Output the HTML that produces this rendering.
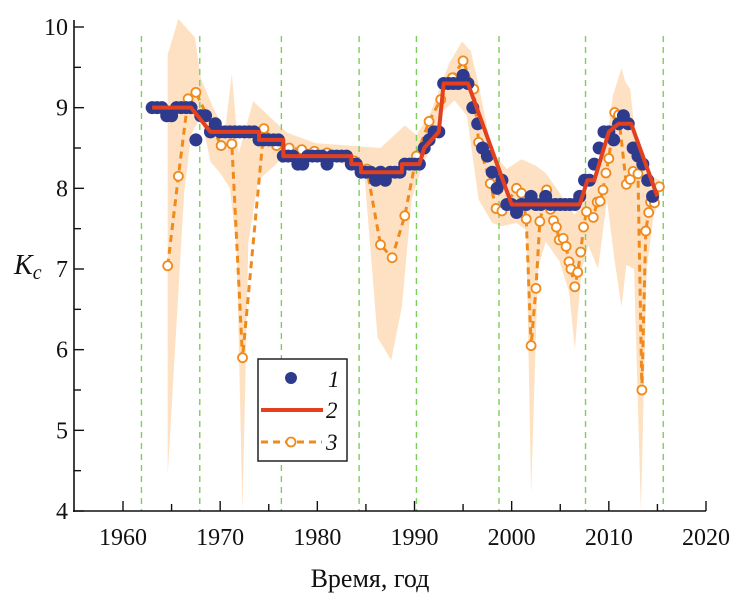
<!DOCTYPE html>
<html><head><meta charset="utf-8"><style>
html,body{margin:0;padding:0;background:#fff}
svg{display:block}
svg text{font-family:"Liberation Serif","DejaVu Serif",serif !important;fill:#111}
</style></head><body>
<svg id="chart" width="742" height="600" viewBox="0 0 742 600" xmlns="http://www.w3.org/2000/svg" font-family="Liberation Serif, DejaVu Serif, serif">
<g id="band"></g>
<g id="vlines"></g>
<g id="s3"></g>
<g id="s1"></g>
<g id="s2"></g>
<g id="axes"></g>
<text x="370" y="587" font-size="26" text-anchor="middle" font-family="Liberation Serif, serif">Время, год</text>
<text x="14" y="274" font-size="28" font-style="italic" font-family="Liberation Serif, serif">K<tspan font-size="20" dy="5">c</tspan></text>
<g>
<rect x="258" y="359" width="89" height="102" fill="#fff" stroke="#222" stroke-width="1.5"/>
<circle cx="291" cy="378" r="6" fill="#2e3a8c"/>
<text x="328" y="387" font-size="23" font-style="italic" font-family="Liberation Serif, serif">1</text>
<line x1="261" y1="410" x2="323" y2="410" stroke="#e2401f" stroke-width="4"/>
<text x="326" y="418" font-size="23" font-style="italic" font-family="Liberation Serif, serif">2</text>
<line x1="261" y1="442" x2="322" y2="442" stroke="#f08a1c" stroke-width="3" stroke-dasharray="7,5"/>
<circle cx="291" cy="442" r="4.5" fill="#fff" stroke="#f08a1c" stroke-width="1.8"/>
<text x="326" y="450" font-size="23" font-style="italic" font-family="Liberation Serif, serif">3</text>
</g>
</svg>
<script>
const xTicks=[1960,1970,1980,1990,2000,2010,2020];
const yTicks=[4,5,6,7,8,9,10];
const boundaryYears=[1961.9,1967.9,1976.3,1984.3,1990.2,1998.7,2007.6,2015.6];
const s1Years=[1963,1963.5,1964,1964.5,1965,1965.5,1966,1966.5,1967,1967.5,1968,1968.5,1969,1969.5,1970,1970.5,1971,1971.5,1972,1972.5,1973,1973.5,1974,1974.5,1975,1975.5,1976,1976.5,1977,1977.5,1978,1978.5,1979,1979.5,1980,1980.5,1981,1981.5,1982,1982.5,1983,1983.5,1984,1984.5,1985,1985.5,1986,1986.5,1987,1987.5,1988,1988.5,1989,1989.5,1990,1990.5,1991,1991.5,1992,1992.5,1993,1993.5,1994,1994.5,1995,1995.5,1996,1996.5,1997,1997.5,1998,1998.5,1999,1999.5,2000,2000.5,2001,2001.5,2002,2002.5,2003,2003.5,2004,2004.5,2005,2005.5,2006,2006.5,2007,2007.5,2008,2008.5,2009,2009.5,2010,2010.5,2011,2011.5,2012,2012.5,2013,2013.5,2014,2014.5];
const s1Values=[9,9,9,8.9,8.9,9,9,9,9,8.6,8.9,8.9,8.7,8.8,8.7,8.7,8.7,8.7,8.7,8.7,8.7,8.7,8.6,8.6,8.6,8.6,8.6,8.4,8.4,8.4,8.3,8.3,8.4,8.4,8.4,8.4,8.3,8.4,8.4,8.4,8.4,8.3,8.3,8.2,8.2,8.2,8.1,8.2,8.1,8.2,8.2,8.2,8.3,8.3,8.3,8.3,8.5,8.6,8.7,8.7,9.3,9.3,9.3,9.3,9.4,9.3,9.0,8.8,8.5,8.4,8.2,8.0,8.1,7.8,7.8,7.7,7.8,7.8,7.9,7.8,7.8,7.9,7.8,7.8,7.8,7.8,7.8,7.8,7.9,8.1,8.1,8.3,8.5,8.7,8.7,8.6,8.8,8.9,8.8,8.5,8.4,8.3,8.1,7.9];
const s2Years=[1963,1967,1969,1974,1974,1976.5,1976.5,1983.5,1983.5,1984.5,1984.5,1988.7,1988.7,1990.5,1991,1992.5,1993,1995.5,2000,2007,2007.8,2008.5,2010,2011,2012.3,2015];
const s2Values=[9,9,8.7,8.7,8.6,8.6,8.4,8.4,8.3,8.3,8.2,8.2,8.3,8.3,8.5,8.7,9.3,9.3,7.8,7.8,8.1,8.1,8.7,8.8,8.8,7.9];
const s3Years=[1964.6,1965.7,1966.7,1967.5,1970.1,1971.2,1972.3,1974.5,1975.8,1977.1,1978.4,1979.7,1981,1982.3,1983.8,1985.1,1986.5,1987.7,1989,1990.2,1991.5,1992.7,1993.9,1995,1996.1,1996.6,1997.8,1998.4,1999,2000.5,2001,2001.5,2002,2002.5,2002.9,2003.6,2004,2004.3,2004.6,2004.9,2005.3,2005.6,2005.9,2006.1,2006.5,2006.8,2007.1,2007.4,2007.7,2008.4,2008.8,2009.1,2009.4,2009.7,2010,2010.6,2011,2011.8,2012.2,2012.5,2013,2013.4,2013.8,2014.1,2014.3,2014.7,2015.2];
const s3Values=[7.04,8.15,9.11,9.19,8.53,8.55,5.9,8.74,8.53,8.5,8.48,8.46,8.44,8.4,8.34,8.24,7.3,7.14,7.66,8.4,8.83,9.1,9.37,9.58,9.23,8.57,8.06,7.75,7.72,8.0,7.94,7.62,6.05,6.76,7.59,7.98,7.74,7.6,7.52,7.36,7.38,7.28,7.09,7.0,6.78,6.96,7.21,7.52,7.71,7.64,7.83,7.84,7.98,8.19,8.37,8.94,8.91,8.05,8.11,8.21,8.18,5.5,7.47,7.7,7.83,7.82,8.02];
const bandUpYears=[1964.6,1965.7,1967.4,1968,1969.2,1970.5,1971.2,1971.9,1973.4,1975.6,1976.9,1979.8,1984.3,1986.5,1989,1990.2,1991.7,1993.6,1994.9,1995.8,1996.6,1998,1999.5,2001,2002.5,2003.5,2004.9,2006.5,2007.2,2008.4,2009.7,2010.4,2011.3,2011.7,2012.2,2012.9,2013.9,2014.6,2015.2];
const bandUpValues=[9.66,10.1,9.87,9.37,9.02,8.71,9.42,8.43,9.08,8.83,8.69,8.56,8.52,8.5,8.78,8.66,8.95,9.56,9.82,9.7,9.28,8.45,8.24,8.36,8.28,8.19,7.95,7.67,7.88,8.05,8.52,9.14,9.49,9.32,9.23,8.43,8.19,8.14,8.1];
const bandLowYears=[1964.6,1966.3,1967,1968,1969,1970,1971,1971.7,1972.3,1972.9,1973.9,1975.6,1976.9,1981.8,1984.8,1986.2,1987.6,1988.7,1989.7,1990.7,1991.7,1992.9,1994.1,1995.4,1996.6,1998,1999,2000.5,2001.5,2002,2002.7,2003.5,2004.9,2005.9,2006.5,2007.2,2007.9,2008.9,2009.8,2010.6,2011.3,2011.8,2012.6,2013.3,2013.9,2014.6,2015.2];
const bandLowValues=[4.45,7.95,8.66,8.9,8.33,8.19,8.0,7.24,4.0,7.34,8.1,8.28,8.45,8.33,8.24,6.15,5.87,6.53,7.86,8.24,8.52,8.95,9.09,8.9,7.86,7.57,7.53,7.57,7.48,4.21,7.0,7.34,7.1,6.72,6.01,7.0,7.29,7.0,7.86,7.1,6.53,7.05,7.0,4.0,7.0,7.66,7.86];

const NS="http://www.w3.org/2000/svg";
const X0=123,X1=706,Y0=511,Y1=27;
function xs(v){return X0+(v-1960)*(X1-X0)/60;}
function ys(v){return Y0-(v-4)*(Y0-Y1)/6;}
function mk(tag,attrs,parent){const e=document.createElementNS(NS,tag);for(const k in attrs)e.setAttribute(k,attrs[k]);parent.appendChild(e);return e;}

const band=document.getElementById('band');
let pts=bandUpYears.map((y,i)=>xs(y)+','+ys(bandUpValues[i]));
for(let i=bandLowYears.length-1;i>=0;i--)pts.push(xs(bandLowYears[i])+','+ys(bandLowValues[i]));
const poly=mk('polygon',{points:pts.join(' '),fill:'#fde1c2'},band);



const vl=document.getElementById('vlines');
boundaryYears.forEach(y=>{
  const l=mk('line',{x1:xs(y),x2:xs(y),y1:36,y2:Y0,stroke:'#7ccf5a','stroke-width':1.4,'stroke-dasharray':'6,5'},vl);
  
  
});

const g3=document.getElementById('s3');
const p3=mk('polyline',{points:s3Years.map((y,i)=>xs(y)+','+ys(s3Values[i])).join(' '),fill:'none',stroke:'#f08a1c','stroke-width':3,'stroke-dasharray':'7,5'},g3);


s3Years.forEach((y,i)=>{
  const c=mk('circle',{cx:xs(y),cy:ys(s3Values[i]),r:4.5,fill:'#fff',stroke:'#f08a1c','stroke-width':1.8},g3);
  
  
});

const g1=document.getElementById('s1');
s1Years.forEach((y,i)=>{
  const c=mk('circle',{cx:xs(y),cy:ys(s1Values[i]),r:6.5,fill:'#2e3a8c'},g1);
  
  
});

const g2=document.getElementById('s2');
const p2=mk('polyline',{points:s2Years.map((y,i)=>xs(y)+','+ys(s2Values[i])).join(' '),fill:'none',stroke:'#e2401f','stroke-width':4,'stroke-linejoin':'round'},g2);



const ax=document.getElementById('axes');
const la=mk('line',{x1:74,x2:74,y1:20,y2:Y0+1,stroke:'#111','stroke-width':1.6},ax);


const lb=mk('line',{x1:73,x2:X1,y1:Y0,y2:Y0,stroke:'#111','stroke-width':1.6},ax);


xTicks.forEach((t,i)=>{
  const tk=mk('line',{x1:xs(t),x2:xs(t),y1:Y0,y2:Y0-10,stroke:'#111','stroke-width':1.4},ax);
  
  
  if(i<xTicks.length-1){
    const m=mk('line',{x1:xs(t+5),x2:xs(t+5),y1:Y0,y2:Y0-7,stroke:'#111','stroke-width':1.4},ax);
    
    
  }
  const tx=mk('text',{x:xs(t),y:545,'font-size':24,'text-anchor':'middle','font-family':'Liberation Serif, serif'},ax);
  tx.textContent=t;
  
  
});
yTicks.forEach((t,i)=>{
  const tk=mk('line',{x1:74,x2:84,y1:ys(t),y2:ys(t),stroke:'#111','stroke-width':1.4},ax);
  
  
  if(i<yTicks.length-1){
    const m=mk('line',{x1:74,x2:81,y1:ys(t+0.5),y2:ys(t+0.5),stroke:'#111','stroke-width':1.4},ax);
    
    
  }
  const tx=mk('text',{x:68,y:ys(t)+8,'font-size':24,'text-anchor':'end','font-family':'Liberation Serif, serif'},ax);
  tx.textContent=t;
  
  
});
</script>
</body></html>
